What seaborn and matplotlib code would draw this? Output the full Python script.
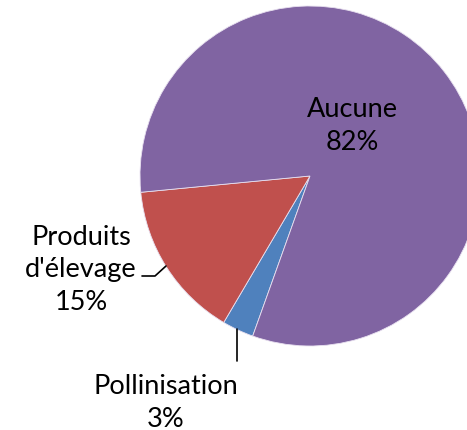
import matplotlib
matplotlib.use("Agg")
import matplotlib.pyplot as plt
import seaborn as sns

categories = ["Pollinisation", "Produits d'élevage", "Aucune"]
values = [3, 15, 82]
colors = ["#4F81BD", "#C0504D", "#8064A2"]

sns.set_theme(style="white")
plt.rcParams['font.family'] = ['Lato', 'DejaVu Sans']

W, H = 467, 431
fig = plt.figure(figsize=(W / 100, H / 100), dpi=100)
ax = fig.add_axes([0, 0, 1, 1])

cx, cy, r = 310, H - 177, 170
ax.pie(values, colors=colors, startangle=250.3, counterclock=False,
       center=(cx, cy), radius=r, frame=True,
       wedgeprops=dict(edgecolor='#E8E0F0', linewidth=0.6))
ax.set_xlim(0, W)
ax.set_ylim(0, H)
ax.set_aspect('equal')
ax.axis('off')

fs = 19.5
ls = 1.36
labels = [f"{c.replace(' d', chr(10) + 'd')}\n{v}%" for c, v in zip(categories, values)]
# Pollinisation
ax.text(166, H - 403, labels[0], ha='center', va='center', fontsize=fs,
        linespacing=ls, color='black')
ax.plot([237, 237], [H - 330, H - 362], color='black', lw=1.2)
# Produits d'élevage
ax.text(81, H - 270, labels[1], ha='center', va='center', fontsize=fs,
        linespacing=ls, color='black')
ax.plot([142, 155, 166], [H - 277, H - 277, H - 267], color='black', lw=1.2)
# Aucune
ax.text(352, H - 126, labels[2], ha='center', va='center', fontsize=fs,
        linespacing=ls, color='black')

fig.savefig("out.png", dpi=100)
